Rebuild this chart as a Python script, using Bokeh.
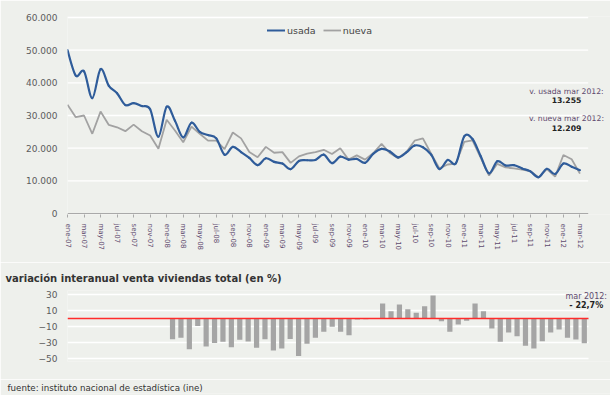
import numpy as np
from bokeh.plotting import figure
from bokeh.layouts import column
from bokeh.models import (Range1d, FixedTicker, Label, Legend, LegendItem,
                          ColumnDataSource, Title)
from bokeh.embed import file_html
from bokeh.resources import INLINE

# ---------------- data ----------------
mes = ["ene", "feb", "mar", "abr", "may", "jun", "jul", "ago", "sep", "oct", "nov", "dic"]
years = ["07", "08", "09", "10", "11", "12"]
months = [f"{m}-{y}" for y in years for m in mes][:63]   # ene-07 .. mar-12

usada = [50000, 42200, 43500, 35300, 44200, 39100, 36800, 33200, 33800, 32900,
         31900, 23500, 32700, 28400, 23300, 27800, 25000, 24000, 23000, 18000,
         20400, 18800, 17000, 14800, 16900, 15800, 15300, 13600, 16100, 16300,
         16400, 18000, 15400, 17400, 16500, 16700, 15500, 18300, 19800, 19000,
         17200, 18700, 20800, 20300, 18000, 13600, 16400, 15400, 23600, 22800,
         17500, 12300, 16000, 14700, 14800, 13800, 12900, 11100, 13700, 12100,
         15300, 14300, 13255]

nueva = [33300, 29500, 30000, 24400, 31200, 27100, 26400, 25200, 27200, 25200,
         23900, 19800, 28700, 25400, 21800, 26600, 24400, 22300, 22300, 19700,
         24800, 23000, 18800, 17200, 20400, 18600, 18800, 15500, 17500, 18300,
         18800, 19500, 18200, 20000, 16500, 17800, 16500, 18500, 21300, 18500,
         16900, 18800, 22300, 23000, 18300, 13800, 15000, 15300, 21900, 22400,
         17000, 11600, 15200, 14100, 13800, 13400, 13000, 11000, 13600, 11300,
         17900, 16600, 12209]

# variación interanual (%), categories feb-07 .. mar-12 (first 12 without value)
var_months = months[1:]
variacion = [None] * 12 + [
    -26.0, -24.0, -38.5, -9.5, -35.0, -30.5, -29.0, -35.8, -26.5, -28.8,
    -36.5, -26.0, -40.0, -37.5, -25.5, -47.0, -31.5, -24.2, -16.7, -10.4,
    -16.7, -20.8, -1.3, -1.0, 0.5, 18.7, 9.1, 17.5, 11.6, 7.1,
    15.4, 28.7, -3.4, -16.7, -7.5, -2.9, 18.7, 9.1, -12.5, -29.2,
    -17.5, -22.1, -34.2, -37.5, -28.4, -17.5, -13.8, -24.2, -26.3, -31.0]

y_ticks_top = [0, 10000, 20000, 30000, 40000, 50000, 60000]
y_ticks_bot = [-50, -30, -10, 10, 30]
var_label = "- 22,7%"

# ---------------- style ----------------
BG = "#eef0ec"
FONT = "DejaVu Sans"
BLUE = "#2f5c9a"
GREY = "#a2a2a2"
LBL = "#5c5c5c"
PURPLE = "#5e4a6e"
W = 610
STEP = 8.265        # px per month in the top chart


def fmt_es(v):
    return f"{int(v):,}".replace(",", ".")


n = len(months)
# ---------------- top chart ----------------
top_x_end = (W - 67) / STEP
top = figure(width=W, height=262, x_range=Range1d(0, top_x_end), y_range=Range1d(-306, 60306),
             output_backend="svg", toolbar_location=None,
             min_border_left=67, min_border_right=0, min_border_top=16, min_border_bottom=48,
             background_fill_color=BG, border_fill_color=BG, outline_line_color=None)
top.xgrid.grid_line_color = None
top.ygrid.grid_line_color = None

# grid lines and base line over the month span
gl = [t for t in y_ticks_top if t > 0]
top.segment(x0=[0] * len(gl), y0=gl, x1=[n] * len(gl), y1=gl,
            line_color="white", line_width=1.3)
top.segment(x0=[0], y0=[0], x1=[n], y1=[0], line_color="#a9a9a9", line_width=1)

xs = np.arange(n, dtype=float)
src = ColumnDataSource(dict(x=xs, usada=usada, nueva=nueva))
r_n = top.line("x", "nueva", source=src, line_color=GREY, line_width=1.8)

# smooth (Catmull-Rom) curve through the usada values
yu = np.array(usada, dtype=float)
i0 = np.arange(n - 1)
im = np.clip(i0 - 1, 0, n - 1)
ip = np.clip(i0 + 2, 0, n - 1)
bz = ColumnDataSource(dict(
    x0=xs[i0], y0=yu[i0], x1=xs[i0 + 1], y1=yu[i0 + 1],
    cx0=xs[i0] + (xs[i0 + 1] - xs[im]) / 6.0, cy0=yu[i0] + (yu[i0 + 1] - yu[im]) / 6.0,
    cx1=xs[i0 + 1] - (xs[ip] - xs[i0]) / 6.0, cy1=yu[i0 + 1] - (yu[ip] - yu[i0]) / 6.0))
r_u = top.bezier(x0="x0", y0="y0", x1="x1", y1="y1", cx0="cx0", cy0="cy0",
                 cx1="cx1", cy1="cy1", source=bz, line_color=BLUE, line_width=2.2,
                 line_cap="round")

ya = top.yaxis[0]
ya.ticker = FixedTicker(ticks=y_ticks_top)
ya.major_label_overrides = {v: fmt_es(v) for v in y_ticks_top}
ya.axis_line_color = None
ya.major_tick_line_color = None
ya.minor_tick_line_color = None
ya.major_tick_out = 0
ya.major_label_standoff = 10
ya.major_label_text_font = FONT
ya.major_label_text_font_size = "9px"
ya.major_label_text_color = LBL

xa = top.xaxis[0]
xa.ticker = FixedTicker(ticks=list(range(0, n, 2)))
xa.major_label_overrides = {i: months[i] for i in range(0, n, 2)}
xa.major_label_orientation = "vertical"
xa.axis_line_color = None
xa.major_tick_line_color = "#a9a9a9"
xa.minor_tick_line_color = None
xa.major_tick_out = 3
xa.major_tick_in = 0
xa.major_label_standoff = 6
xa.major_label_text_font = FONT
xa.major_label_text_font_size = "7px"
xa.major_label_text_color = PURPLE

legend = Legend(items=[LegendItem(label="usada", renderers=[r_u]),
                       LegendItem(label="nueva", renderers=[r_n])],
                orientation="horizontal", location=(200, 178),
                background_fill_alpha=0, border_line_color=None,
                label_text_font=FONT, label_text_font_size="9.5px", label_text_color="#444444",
                glyph_width=18, glyph_height=12, label_standoff=2, spacing=7,
                padding=0, margin=0)
top.add_layout(legend)

ann_x = (566.0 - 67) / STEP
for yy, txt, bold in [(37300, "v. usada mar 2012:", False), (34600, fmt_es(usada[-1]), True),
                      (29100, "v. nueva mar 2012:", False), (26300, fmt_es(nueva[-1]), True)]:
    top.add_layout(Label(x=ann_x, y=yy, text=txt, text_align="center",
                         text_baseline="middle", text_font=FONT, text_font_size="7.7px",
                         text_font_style="bold" if bold else "normal",
                         text_color="#222222" if bold else PURPLE))

# ---------------- bottom chart ----------------
m = len(var_months)
bot_x_end = (W - 67) * m / 521.0
bot = figure(width=W, height=117, x_range=Range1d(0, bot_x_end),
             y_range=Range1d(-53.75, 35), x_axis_location=None,
             output_backend="svg", toolbar_location=None,
             min_border_left=67, min_border_right=0, min_border_top=28, min_border_bottom=18,
             background_fill_color=BG, border_fill_color=BG, outline_line_color=None)
bot.xgrid.grid_line_color = None
bot.ygrid.grid_line_color = None
bot.segment(x0=[0] * len(y_ticks_bot), y0=y_ticks_bot, x1=[m] * len(y_ticks_bot),
            y1=y_ticks_bot, line_color="white", line_width=1.3)

bx = [j + 0.5 for j, v in enumerate(variacion) if v is not None]
bv = [v for v in variacion if v is not None]
bot.vbar(x=bx, top=bv, bottom=0, width=0.62, fill_color="#a5a5a5", line_color=None)
bot.segment(x0=[0], y0=[0], x1=[m], y1=[0], line_color="#ff2b2b", line_width=1.5)

yb = bot.yaxis[0]
yb.ticker = FixedTicker(ticks=y_ticks_bot)
yb.axis_line_color = None
yb.major_tick_line_color = None
yb.minor_tick_line_color = None
yb.major_tick_out = 0
yb.major_label_standoff = 10
yb.major_label_text_font = FONT
yb.major_label_text_font_size = "9px"
yb.major_label_text_color = LBL

bot.add_layout(Title(text="variación interanual venta viviendas total (en %)", align="left",
                     offset=-62, standoff=13, text_font=FONT, text_font_size="10px",
                     text_font_style="bold", text_color="#333333"), "above")

bx_ann = 61.73
bot.add_layout(Label(x=bx_ann, y=27.5, text="mar 2012:", text_align="center",
                     text_baseline="middle", text_font=FONT, text_font_size="8px",
                     text_color=PURPLE))
bot.add_layout(Label(x=bx_ann, y=16.3, text=var_label, text_align="center",
                     text_baseline="middle", text_font=FONT, text_font_size="8px",
                     text_font_style="bold", text_color="#222222"))

# ---------------- source line ----------------
foot = figure(width=W, height=16, x_range=Range1d(0, 1), y_range=Range1d(0, 1),
              x_axis_location=None, y_axis_location=None,
              output_backend="svg", toolbar_location=None,
              min_border_left=67, min_border_right=0, min_border_top=0, min_border_bottom=0,
              background_fill_color=BG, border_fill_color=BG, outline_line_color=None)
foot.xgrid.grid_line_color = None
foot.ygrid.grid_line_color = None
foot.add_layout(Title(text="fuente: instituto nacional de estadística (ine)", align="left",
                      offset=-60, standoff=2, text_font=FONT, text_font_size="8.7px",
                      text_font_style="normal", text_color="#333333"), "above")

layout = column(top, bot, foot, spacing=0)
open("out.html", "w").write(file_html(layout, INLINE))
